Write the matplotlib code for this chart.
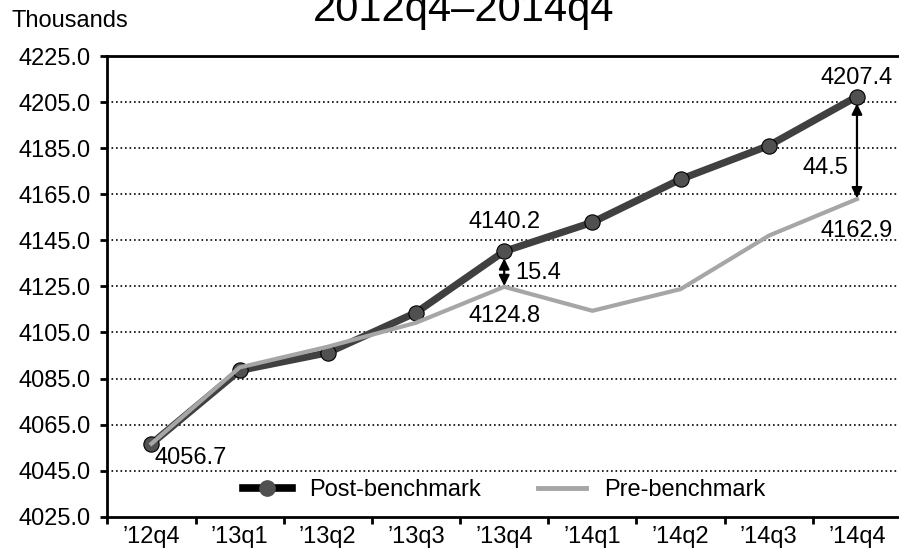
import matplotlib
matplotlib.use("Agg")
import matplotlib.pyplot as plt
from matplotlib.lines import Line2D

plt.rcParams["font.family"] = ["Liberation Sans", "DejaVu Sans"]

# Quarterly series (thousands)
quarters = ["\u201912q4", "\u201913q1", "\u201913q2", "\u201913q3", "\u201913q4",
            "\u201914q1", "\u201914q2", "\u201914q3", "\u201914q4"]
post_benchmark = [4056.7, 4088.5, 4096.2, 4113.6, 4140.2, 4152.8, 4171.5, 4186.1, 4207.4]
pre_benchmark = [4056.7, 4089.8, 4098.8, 4109.2, 4124.8, 4114.4, 4123.8, 4147.0, 4162.9]
y_ticks = [4025.0, 4045.0, 4065.0, 4085.0, 4105.0, 4125.0, 4145.0, 4165.0, 4185.0, 4205.0, 4225.0]
title_text = "2012q4\u20132014q4"
units_text = "Thousands"

FS = 17
DARK = "#404040"
LIGHT = "#a6a6a6"

fig = plt.figure(figsize=(8.99, 5.54), dpi=100)
ax = fig.add_axes([0.1194, 0.0673, 0.8829, 0.8316])

x = list(range(len(quarters)))

ax.plot(x, post_benchmark, color=DARK, lw=5.2, solid_joinstyle="round",
        marker="o", markersize=11, markerfacecolor="#505050",
        markeredgecolor="black", markeredgewidth=0.8, zorder=3)
ax.plot(x, pre_benchmark, color=LIGHT, lw=3.0, solid_joinstyle="miter", zorder=4)

ax.set_xlim(-0.5, len(quarters) - 0.5)
ax.set_ylim(y_ticks[0], y_ticks[-1])

# y axis
ax.set_yticks(y_ticks)
ax.set_yticklabels([f"{v:.1f}" for v in y_ticks])
ax.tick_params(axis="y", direction="out", length=5, width=2, pad=7, labelsize=FS)
for v in y_ticks[1:-1]:
    ax.axhline(v, color="black", lw=1.2, ls=(0, (1, 1.7)), zorder=1)

# x axis: ticks between quarters, labels centred on each quarter
ax.set_xticks([i - 0.5 for i in range(len(quarters) + 1)])
ax.set_xticklabels([])
ax.set_xticks(x, minor=True)
ax.set_xticklabels(quarters, minor=True)
ax.tick_params(axis="x", which="major", direction="out", length=5, width=2)
ax.tick_params(axis="x", which="minor", length=0, pad=7, labelsize=FS)

for side in ["left", "bottom", "top"]:
    ax.spines[side].set_linewidth(2)
    ax.spines[side].set_color("black")
ax.spines["right"].set_visible(False)

# value labels
def label(xi, yv, text, dx, dy, ha="center"):
    ax.annotate(text, (xi, yv), xytext=(dx, dy), textcoords="offset pixels",
                ha=ha, va="center", fontsize=FS, zorder=6)

label(0, post_benchmark[0], f"{post_benchmark[0]:.1f}", 3, -14, ha="left")
label(4, post_benchmark[4], f"{post_benchmark[4]:.1f}", 0, 29)
label(4, pre_benchmark[4], f"{pre_benchmark[4]:.1f}", 0, -29)
label(8, post_benchmark[8], f"{post_benchmark[8]:.1f}", 0, 19)
label(8, pre_benchmark[8], f"{pre_benchmark[8]:.1f}", 0, -32)

# revision arrows with differences
for idx, side in [(4, "right"), (8, "left")]:
    top = post_benchmark[idx]
    bot = pre_benchmark[idx]
    ax.annotate("", xy=(idx, bot), xytext=(idx, top),
                arrowprops=dict(arrowstyle="<|-|>,head_length=0.45,head_width=0.22",
                                color="black", lw=1.6, shrinkA=5, shrinkB=0.5,
                                mutation_scale=14),
                zorder=5)
    diff = f"{top - bot:.1f}"
    mid = (top + bot) / 2
    if side == "right":
        label(idx, mid, diff, 11, -4, ha="left")
    else:
        label(idx, mid, diff, -9, -20, ha="right")

# legend
handles = [
    Line2D([], [], color="black", lw=5.5, marker="o", markersize=11,
           markerfacecolor="#505050", markeredgecolor="#505050"),
    Line2D([], [], color=LIGHT, lw=3.5),
]
ax.legend(handles, ["Post-benchmark", "Pre-benchmark"], loc="center",
          bbox_to_anchor=(0.5, 0.058), ncol=2, frameon=False, fontsize=FS,
          handlelength=2.05, handletextpad=0.75, columnspacing=2.4,
          borderaxespad=0, borderpad=0)

fig.text(464 / 899, 1 - 20.7 / 554, title_text, ha="center", va="baseline", fontsize=30)
fig.text(12 / 899, 1 - 27.3 / 554, units_text, ha="left", va="baseline", fontsize=FS)

fig.savefig("out.png", dpi=100)
